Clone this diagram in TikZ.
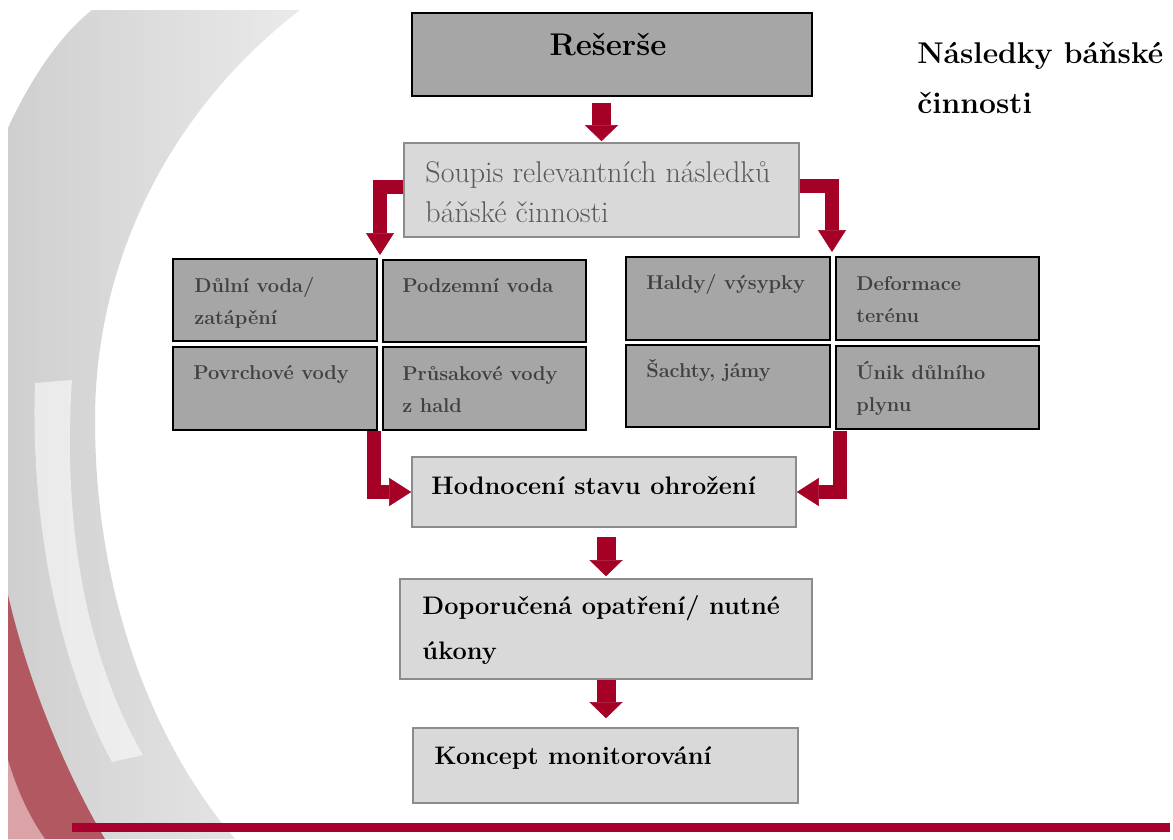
\documentclass[tikz,border=0pt]{standalone}
\usepackage{fontspec}
\usetikzlibrary{calc,arrows.meta}
\definecolor{boxgray}{HTML}{A6A6A6}
\definecolor{boxlight}{HTML}{D9D9D9}
\definecolor{lightedge}{HTML}{8C8C8C}
\definecolor{txtgray}{HTML}{404040}
\definecolor{soupgray}{HTML}{595959}
\definecolor{arrowred}{HTML}{A50026}
\definecolor{linered}{HTML}{A8002F}
\definecolor{swoosh}{HTML}{CFCFCF}
\definecolor{swooshlt}{HTML}{EAEAEA}
\definecolor{rosered}{HTML}{B15861}
\definecolor{rosepink}{HTML}{DBA2A8}

\begin{document}
\begin{tikzpicture}[x=0.75pt,y=-0.75pt,
  darkbox/.style={draw=black, line width=1.5pt, fill=boxgray, inner sep=0pt},
  lightbox/.style={draw=lightedge, line width=1.2pt, fill=boxlight, inner sep=0pt},
  gridtxt/.style={anchor=base west, inner sep=0pt, text=txtgray, align=left, font=\fontsize{15}{24}\selectfont\bfseries},
  steptxt/.style={anchor=base west, inner sep=0pt, align=left, font=\fontsize{19}{33.75}\selectfont\bfseries},
  bigarrow/.style={draw=arrowred, line width=14.25pt, -{Triangle[length=12pt, width=24.75pt, line width=0.4pt, fill=arrowred]}},
  bendarrow/.style={draw=arrowred, line width=10.5pt, line join=miter, -{Triangle[length=16.5pt, width=21pt, line width=0.4pt, fill=arrowred]}}]
\useasboundingbox (0,0) rectangle (1173,839);
\fill[white] (0,0) rectangle (1173,839);

% slide background
\shade[left color=swoosh, right color=swooshlt] (8,128) .. controls (30,80) and (60,35) .. (92,10) -- (300,10) .. controls (170,110) and (95,260) .. (95,420) .. controls (95,590) and (150,740) .. (235,839) -- (8,839) -- cycle;
\fill[rosered] (8,595) .. controls (30,690) and (70,780) .. (105,839) -- (8,839) -- cycle; %red corner
\fill[rosepink] (8,760) .. controls (20,800) and (35,825) .. (45,839) -- (8,839) -- cycle;
\fill[white, opacity=0.55] (35,383) -- (72,380) .. controls (62,530) and (88,660) .. (143,755) -- (112,762) .. controls (62,670) and (30,530) .. cycle; %streak
\fill[linered] (72,823) rectangle (1170,832);

\node[anchor=base west, inner sep=0pt, align=left, font=\fontsize{22.5}{37.5}\selectfont\bfseries] (title) at (917,113) {Následky báňské\\činnosti};

% top
\node[darkbox, minimum width=300pt, minimum height=62.25pt] (rs) at (612,54.5) {};
\node[anchor=base, inner sep=0pt, font=\fontsize{23.5}{28}\selectfont\bfseries] (rst) at (608,55) {Rešerše};
\node[lightbox, minimum width=296.25pt, minimum height=70.5pt] (sp) at (601.5,190) {};
\node[anchor=base west, inner sep=0pt, align=left, text=soupgray, font=\fontsize{22.5}{30}\selectfont] (spt) at ($(sp.north west)+(22,80)$) {Soupis relevantních následků\\báňské činnosti};

% left grid
\node[darkbox, minimum width=153pt, minimum height=61.5pt] (b1) at (275,300) {};
\node[darkbox, minimum width=152.25pt, minimum height=61.5pt] (b2) at (484.5,301) {};
\node[darkbox, minimum width=153pt, minimum height=62.25pt] (b3) at (275,388.5) {};
\node[darkbox, minimum width=152.25pt, minimum height=62.25pt] (b4) at (484.5,388.5) {};
\node[gridtxt] (t1) at ($(b1.north west)+(22,66)$) {Důlní voda/\\zatápění};
\node[gridtxt] (t2) at ($(b2.north west)+(20,33)$) {Podzemní voda};
\node[gridtxt] (t3) at ($(b3.north west)+(21,33)$) {Povrchové vody};
\node[gridtxt] (t4) at ($(b4.north west)+(20,66)$) {Průsakové vody\\z hald};

% right grid
\node[darkbox, minimum width=153pt, minimum height=62.25pt] (b5) at (728,298.5) {};
\node[darkbox, minimum width=152.25pt, minimum height=62.25pt] (b6) at (937.5,298.5) {};
\node[darkbox, minimum width=153pt, minimum height=61.5pt] (b7) at (728,386) {};
\node[darkbox, minimum width=152.25pt, minimum height=62.25pt] (b8) at (937.5,387.5) {};
\node[gridtxt] (t5) at ($(b5.north west)+(21,33)$) {Haldy/ výsypky};
\node[gridtxt] (t6) at ($(b6.north west)+(21,66)$) {Deformace\\terénu};
\node[gridtxt] (t7) at ($(b7.north west)+(21,33)$) {Šachty, jámy};
\node[gridtxt] (t8) at ($(b8.north west)+(21,66)$) {Únik důlního\\plynu};

% lower steps
\node[lightbox, minimum width=288pt, minimum height=52.5pt] (ho) at (604,492) {};
\node[steptxt] (hot) at ($(ho.north west)+(20,38)$) {Hodnocení stavu ohrožení};
\node[lightbox, minimum width=309pt, minimum height=75pt] (dp) at (606,629) {};
\node[steptxt] (dpt) at ($(dp.north west)+(23,81)$) {Doporučená opatření/ nutné\\úkony};
\node[lightbox, minimum width=288.75pt, minimum height=56.25pt] (ko) at (605.5,765.5) {};
\node[steptxt] (kot) at ($(ko.north west)+(22,37)$) {Koncept monitorování};

% arrows
\coordinate (lt) at (380,255);
\coordinate (rt) at (832,252);
\coordinate (lb) at (374,431);
\coordinate (rb) at (839.5,431);
\draw[bigarrow, shorten <=4.5pt, shorten >=0.75pt] (sp.north |- rs.south) -- (sp.north);
\draw[bendarrow] ([yshift=2pt]sp.west) -| (lt);
\draw[bendarrow] ([yshift=3pt]sp.east) -| (rt);
\draw[bendarrow] (lb) |- (ho.west);
\draw[bendarrow] (rb) |- (ho.east);
\draw[bigarrow, shorten <=6.75pt, shorten >=1.5pt] (dp.north |- ho.south) -- (dp.north);
\draw[bigarrow, shorten >=6.75pt] (dp.south) -- (dp.south |- ko.north);
\end{tikzpicture}
\end{document}
